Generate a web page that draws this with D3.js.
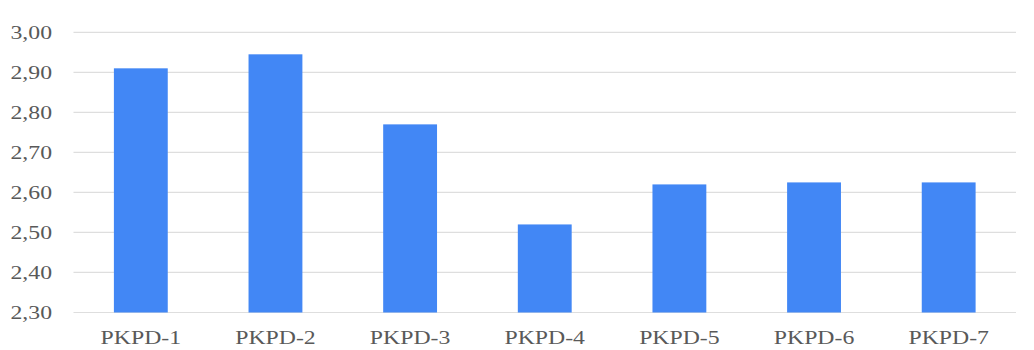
<!DOCTYPE html>
<html>
<head>
<meta charset="utf-8">
<script src="https://cdn.jsdelivr.net/npm/d3@7"></script>
<style>
  html, body { margin: 0; padding: 0; background: #fff; }
  svg { display: block; }
  text { font-family: "Liberation Serif", "Times New Roman", serif; fill: #595959; }
</style>
</head>
<body>
<svg id="chart" width="1034" height="350"></svg>
<script>
// Categories and their values
const categories = ["PKPD-1", "PKPD-2", "PKPD-3", "PKPD-4", "PKPD-5", "PKPD-6", "PKPD-7"];
const values = [2.91, 2.945, 2.77, 2.52, 2.62, 2.625, 2.625];
// Y-axis ticks
const yTicks = [2.30, 2.40, 2.50, 2.60, 2.70, 2.80, 2.90, 3.00];
const yDomain = [2.30, 3.00];

(function draw() {
  const svg = d3.select("#chart");
  const plot = { left: 73.5, right: 1016, top: 32.3, bottom: 312.5 };
  const fontSize = 19, stretch = 1.25;

  const x = d3.scaleBand().domain(categories).range([plot.left, plot.right])
    .paddingInner(0.6).paddingOuter(0.3);
  const y = d3.scaleLinear().domain(yDomain).range([plot.bottom, plot.top]);

  const fmt = v => d3.format(".2f")(v).replace(".", ",");

  // Horizontal gridlines
  svg.append("g").selectAll("line").data(yTicks).join("line")
    .attr("x1", plot.left).attr("x2", plot.right)
    .attr("y1", d => y(d)).attr("y2", d => y(d))
    .attr("stroke", "#dedede").attr("stroke-width", 1.2);

  // Y tick labels
  svg.append("g").selectAll("text").data(yTicks).join("text")
    .attr("transform", d => `translate(52,${y(d)}) scale(${stretch},1)`)
    .attr("text-anchor", "end")
    .attr("dy", "0.33em")
    .attr("font-size", fontSize)
    .text(fmt);

  // Bars
  svg.append("g").selectAll("rect").data(categories).join("rect")
    .attr("x", d => x(d))
    .attr("width", x.bandwidth())
    .attr("y", (d, i) => y(values[i]))
    .attr("height", (d, i) => y(yDomain[0]) - y(values[i]))
    .attr("fill", "#4287F5");

  // X category labels
  svg.append("g").selectAll("text").data(categories).join("text")
    .attr("transform", d => `translate(${x(d) + x.bandwidth() / 2},343.5) scale(${stretch},1)`)
    .attr("text-anchor", "middle")
    .attr("font-size", fontSize)
    .text(d => d);
})();
</script>
</body>
</html>
